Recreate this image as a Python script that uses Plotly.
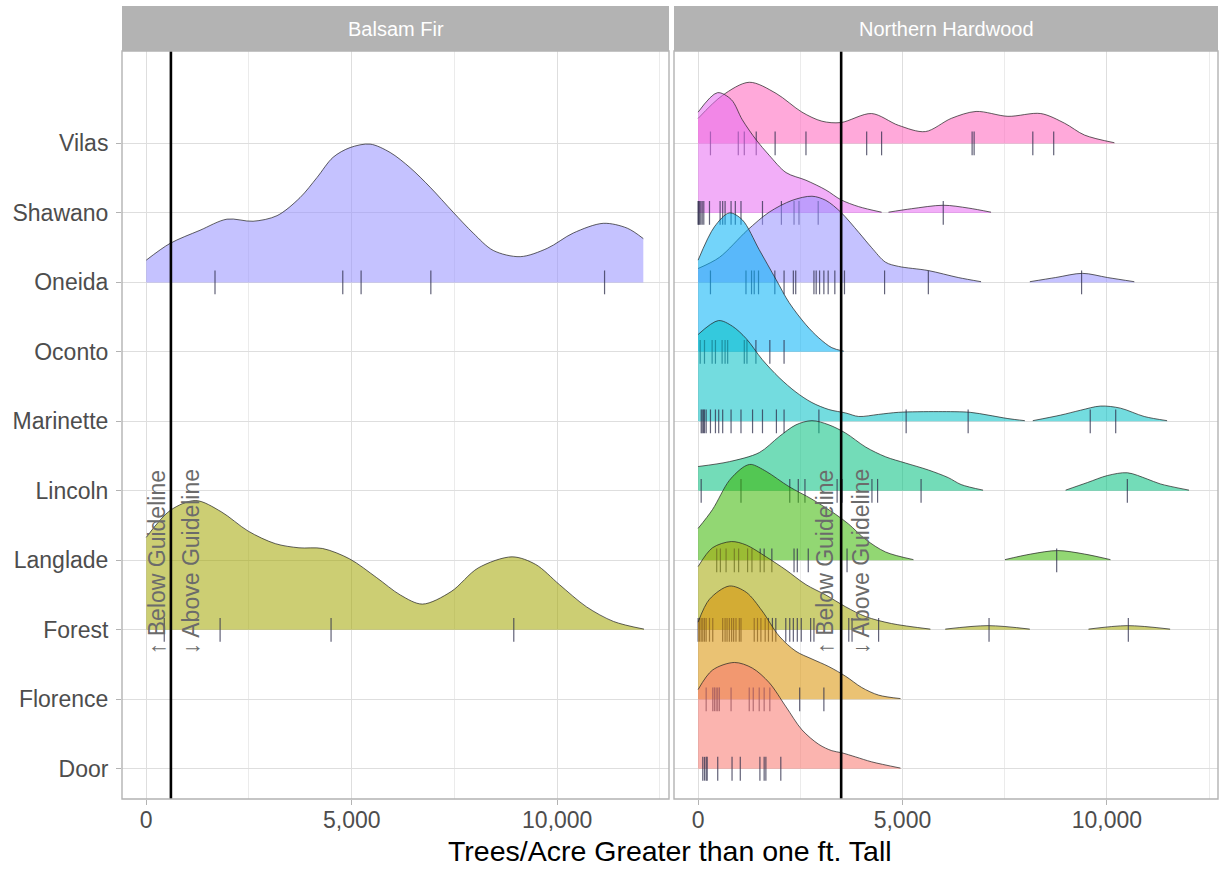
import plotly.graph_objects as go

# ---------------- data ----------------
CATEGORIES = ["Door", "Florence", "Forest", "Langlade", "Lincoln",
              "Marinette", "Oconto", "Oneida", "Shawano", "Vilas"]
COLORS = ["#F8766D", "#D89000", "#A3A500", "#39B600", "#00BF7D",
          "#00BFC4", "#00B0F6", "#9590FF", "#E76BF3", "#FF62BC"]
PANELS = ["Balsam Fir", "Northern Hardwood"]
GUIDELINES = [600, 3500]
X_TICKS = [0, 5000, 10000]
X_TICK_LABELS = ["0", "5,000", "10,000"]
X_MINOR = [2500, 7500, 12500]
X_TITLE = "Trees/Acre Greater than one ft. Tall"
BELOW_TEXT = "\u2191 Below Guideline"
ABOVE_TEXT = "\u2193 Above Guideline"

# density ridges (x grid, ridge height in row units); several segments where tails are cut
bf_oneida_x = [0, 577, 1308, 1965, 2598, 3182, 3742, 4156, 4546, 4960, 5447, 5934, 6421,
               6908, 7468, 7955, 8442, 9099, 9757, 10390, 11120, 11705, 12095]
bf_oneida_h = [0.32, 0.56, 0.75, 0.91, 0.88, 0.96, 1.22, 1.51, 1.80, 1.94, 1.99, 1.87, 1.65,
               1.37, 1.01, 0.71, 0.46, 0.37, 0.49, 0.71, 0.85, 0.78, 0.63]
bf_forest_x = [0, 587, 1205, 1821, 2481, 3139, 3716, 4293, 4950, 5608, 6185, 6720, 7419,
               8077, 8902, 9477, 10054, 10714, 11371, 12111]
bf_forest_h = [1.33, 1.72, 1.86, 1.70, 1.42, 1.24, 1.18, 1.17, 1.02, 0.75, 0.50, 0.37, 0.55,
               0.89, 1.05, 0.94, 0.65, 0.33, 0.12, 0.01]

nh_vilas_x = [0, 594, 1251, 1908, 2541, 3028, 3491, 4245, 4903, 5560, 6193, 6801, 7580,
              8384, 8968, 9455, 10185]
nh_vilas_h = [0.36, 0.69, 0.88, 0.72, 0.45, 0.32, 0.30, 0.43, 0.26, 0.17, 0.36, 0.46, 0.39,
              0.43, 0.29, 0.12, 0.01]
nh_shawano_x1 = [0, 472, 813, 1081, 1422, 1738, 2152, 2639, 3126, 3491, 3929, 4489]
nh_shawano_h1 = [1.45, 1.73, 1.63, 1.34, 1.05, 0.83, 0.58, 0.47, 0.33, 0.19, 0.09, 0.01]
nh_shawano_x2 = [4659, 5219, 5998, 6607, 7167]
nh_shawano_h2 = [0.01, 0.06, 0.11, 0.07, 0.01]
nh_oneida_x1 = [0, 521, 1203, 1738, 2298, 2785, 3126, 3491, 3929, 4245, 4586, 4903, 5633,
                6363, 6923]
nh_oneida_h1 = [0.20, 0.36, 0.75, 1.01, 1.18, 1.24, 1.18, 1.01, 0.72, 0.50, 0.29, 0.23, 0.17,
                0.07, 0.01]
nh_oneida_x2 = [8116, 8749, 9406, 10015, 10672]
nh_oneida_h2 = [0.01, 0.07, 0.13, 0.07, 0.01]
nh_oconto_x = [0, 399, 764, 1081, 1495, 1908, 2225, 2639, 2955, 3272, 3564]
nh_oconto_h = [1.32, 1.80, 2.00, 1.90, 1.47, 1.04, 0.71, 0.39, 0.20, 0.06, 0.01]
nh_marinette_x1 = [0, 497, 837, 1178, 1568, 1982, 2395, 2785, 3199, 3613, 3929, 4416, 4903,
                   5876, 6655, 7094, 7580, 7994]
nh_marinette_h1 = [1.25, 1.45, 1.37, 1.19, 0.89, 0.63, 0.42, 0.27, 0.17, 0.12, 0.07, 0.10, 0.13,
                   0.14, 0.13, 0.09, 0.04, 0.01]
nh_marinette_x2 = [8189, 8871, 9357, 9844, 10331, 10915, 11475]
nh_marinette_h2 = [0.01, 0.09, 0.16, 0.22, 0.19, 0.07, 0.01]
nh_lincoln_x1 = [0, 764, 1495, 1982, 2395, 2785, 3199, 3613, 4099, 4586, 5073, 5633, 6120,
                 6436, 6972]
nh_lincoln_h1 = [0.35, 0.42, 0.55, 0.78, 0.95, 1.01, 0.95, 0.83, 0.63, 0.49, 0.40, 0.30, 0.19,
                 0.09, 0.01]
nh_lincoln_x2 = [8992, 9528, 10015, 10502, 10988, 11305, 12011]
nh_lincoln_h2 = [0.01, 0.12, 0.22, 0.26, 0.17, 0.10, 0.01]
nh_langlade_x1 = [0, 351, 764, 1130, 1300, 1665, 2225, 2785, 3369, 3686, 4099, 4586, 5268]
nh_langlade_h1 = [0.46, 0.73, 1.15, 1.35, 1.38, 1.28, 1.06, 0.88, 0.66, 0.52, 0.30, 0.12, 0.01]
nh_langlade_x2 = [7507, 8140, 8798, 9455, 10088]
nh_langlade_h2 = [0.01, 0.09, 0.14, 0.09, 0.01]
nh_forest_x1 = [0, 351, 813, 1178, 1665, 2152, 2639, 3126, 3613, 4099, 4732, 5682]
nh_forest_h1 = [0.91, 1.18, 1.27, 1.22, 1.05, 0.86, 0.65, 0.50, 0.33, 0.19, 0.09, 0.01]
nh_forest_x2 = [6047, 7094, 8116]
nh_forest_h2 = [0.01, 0.06, 0.01]
nh_forest_x3 = [9552, 10502, 11548]
nh_forest_h3 = [0.01, 0.06, 0.01]
nh_florence_x = [0, 278, 764, 1178, 1568, 1982, 2395, 2785, 3199, 3613, 4002, 4416, 4951]
nh_florence_h = [1.11, 1.44, 1.63, 1.54, 1.27, 0.91, 0.69, 0.58, 0.47, 0.33, 0.17, 0.06, 0.01]
nh_door_x = [0, 351, 886, 1324, 1738, 2152, 2541, 2955, 3272, 3515, 3856, 4245, 4951]
nh_door_h = [1.14, 1.42, 1.53, 1.45, 1.24, 0.89, 0.56, 0.35, 0.26, 0.23, 0.17, 0.10, 0.01]

# observed plot values (rug marks)
bf_oneida_pts = [1673, 4782, 5228, 6925, 11152]
bf_forest_pts = [438, 1797, 4497, 8943]
nh_vilas_pts = [302, 983, 1130, 1422, 1884, 2639, 4124, 4489, 6704, 6753, 8189, 8700]
nh_shawano_pts = [0, 10, 34, 66, 100, 139, 278, 538, 601, 660, 806, 910, 1049, 1575, 2038,
                  2347, 2468, 2938, 5998]
nh_oneida_pts = [302, 1171, 1307, 1373, 1478, 1877, 2103, 2330, 2388, 2834, 2889, 2972, 3077,
                 3182, 3345, 3581, 4562, 5633, 9382]
nh_oconto_pts = [51, 156, 343, 424, 587, 660, 723, 1130, 1195, 1414, 1755, 2103]
nh_marinette_pts = [75, 100, 131, 156, 197, 302, 424, 504, 601, 806, 1049, 1332, 1575, 1916,
                    2103, 2955, 5090, 6607, 9594, 10217]
nh_lincoln_pts = [75, 1049, 2242, 2451, 2614, 3401, 3522, 4253, 4391, 5455, 10502]
nh_langlade_pts = [455, 545, 684, 886, 991, 1210, 1317, 1519, 1616, 1804, 2347, 2427, 2695,
                   3644, 8773]
nh_forest_pts = [0, 34, 75, 114, 156, 197, 278, 358, 601, 660, 708, 764, 820, 869, 927, 1008,
                 1049, 1373, 1453, 1536, 1641, 1721, 1818, 1901, 2145, 2242, 2330, 2427, 2524,
                 2753, 2834, 3686, 3766, 4416, 7118, 10526]
nh_florence_pts = [197, 358, 399, 441, 480, 521, 806, 1251, 1349, 1495, 1616, 1755, 2485, 3077]
nh_door_pts = [114, 156, 197, 222, 480, 830, 1032, 1512, 1616, 1658, 2023]

RIDGES = [
    ("Balsam Fir", "Oneida", [(bf_oneida_x, bf_oneida_h)], bf_oneida_pts),
    ("Balsam Fir", "Forest", [(bf_forest_x, bf_forest_h)], bf_forest_pts),
    ("Northern Hardwood", "Vilas", [(nh_vilas_x, nh_vilas_h)], nh_vilas_pts),
    ("Northern Hardwood", "Shawano", [(nh_shawano_x1, nh_shawano_h1),
                                      (nh_shawano_x2, nh_shawano_h2)], nh_shawano_pts),
    ("Northern Hardwood", "Oneida", [(nh_oneida_x1, nh_oneida_h1),
                                     (nh_oneida_x2, nh_oneida_h2)], nh_oneida_pts),
    ("Northern Hardwood", "Oconto", [(nh_oconto_x, nh_oconto_h)], nh_oconto_pts),
    ("Northern Hardwood", "Marinette", [(nh_marinette_x1, nh_marinette_h1),
                                        (nh_marinette_x2, nh_marinette_h2)], nh_marinette_pts),
    ("Northern Hardwood", "Lincoln", [(nh_lincoln_x1, nh_lincoln_h1),
                                      (nh_lincoln_x2, nh_lincoln_h2)], nh_lincoln_pts),
    ("Northern Hardwood", "Langlade", [(nh_langlade_x1, nh_langlade_h1),
                                       (nh_langlade_x2, nh_langlade_h2)], nh_langlade_pts),
    ("Northern Hardwood", "Forest", [(nh_forest_x1, nh_forest_h1), (nh_forest_x2, nh_forest_h2),
                                     (nh_forest_x3, nh_forest_h3)], nh_forest_pts),
    ("Northern Hardwood", "Florence", [(nh_florence_x, nh_florence_h)], nh_florence_pts),
    ("Northern Hardwood", "Door", [(nh_door_x, nh_door_h)], nh_door_pts),
]

# ---------------- figure ----------------
FONT = "Liberation Sans, Arial, sans-serif"
AXES = {"Balsam Fir": ("x", "y"), "Northern Hardwood": ("x2", "y2")}


def rgba(hex_color, a):
    h = hex_color.lstrip("#")
    return "rgba(%d,%d,%d,%.2f)" % (int(h[0:2], 16), int(h[2:4], 16), int(h[4:6], 16), a)


fig = go.Figure()
for panel, county, segments, pts in RIDGES:
    xa, ya = AXES[panel]
    base = CATEGORIES.index(county) + 1
    col = COLORS[CATEGORIES.index(county)]
    fill = rgba(col, 0.55)
    for xs, hs in segments:
        fig.add_trace(go.Scatter(x=[xs[0], xs[-1]], y=[base, base], mode="lines",
                                 line=dict(width=0, color=fill), xaxis=xa, yaxis=ya,
                                 hoverinfo="skip", showlegend=False))
        fig.add_trace(go.Scatter(x=xs, y=[base + h for h in hs], mode="lines",
                                 line=dict(color="rgba(35,35,35,0.9)", width=0.8,
                                           shape="spline", smoothing=0.9),
                                 fill="tonexty", fillcolor=fill, xaxis=xa, yaxis=ya,
                                 name=county, showlegend=False))
    fig.add_trace(go.Scatter(x=pts, y=[base] * len(pts), mode="markers",
                             marker=dict(symbol="line-ns", size=17,
                                         line=dict(width=1.2, color="rgba(45,45,75,0.75)")),
                             xaxis=xa, yaxis=ya, hoverinfo="x", showlegend=False))

W, H = 1220, 869
PANEL_TOP, PANEL_BOT = 51, 799
STRIP_TOP = 6
y_dom = [(H - PANEL_BOT) / H, (H - PANEL_TOP) / H]
x_doms = [[122 / W, 669 / W], [674 / W, 1218 / W]]
X_RANGE = [-590, 12720]
Y_RANGE = [0.565, 11.33]

common_x = dict(range=X_RANGE, tickvals=X_TICKS, ticktext=X_TICK_LABELS,
                tickfont=dict(size=23, color="#4D4D4D", family=FONT),
                ticks="outside", ticklen=5, tickcolor="#B3B3B3", tickwidth=1,
                ticklabelstandoff=-5,
                showgrid=True, gridcolor="#DEDEDE", gridwidth=1, zeroline=False,
                showline=False, fixedrange=True,
                minor=dict(tickvals=X_MINOR, showgrid=True, gridcolor="#EBEBEB",
                           gridwidth=0.6, ticks=""))
fig.update_layout(
    width=W, height=H, margin=dict(l=0, r=0, t=0, b=0),
    paper_bgcolor="white", plot_bgcolor="white", showlegend=False,
    font=dict(family=FONT),
    xaxis=dict(domain=x_doms[0], anchor="y", **common_x),
    xaxis2=dict(domain=x_doms[1], anchor="y2", **common_x),
    yaxis=dict(domain=y_dom, anchor="x", range=Y_RANGE,
               tickvals=list(range(1, len(CATEGORIES) + 1)), ticktext=CATEGORIES,
               tickfont=dict(size=23, color="#4D4D4D", family=FONT),
               ticks="outside", ticklen=5, tickcolor="#B3B3B3", ticklabelstandoff=3,
               showgrid=True, gridcolor="#DEDEDE", gridwidth=1, zeroline=False,
               showline=False, fixedrange=True),
    yaxis2=dict(domain=y_dom, anchor="x2", matches="y", range=Y_RANGE,
                tickvals=list(range(1, len(CATEGORIES) + 1)), showticklabels=False,
                ticks="", showgrid=True, gridcolor="#DEDEDE", gridwidth=1,
                zeroline=False, showline=False, fixedrange=True),
)

shapes = []
annotations = []
for i, panel in enumerate(PANELS):
    xa, ya = AXES[panel]
    shapes.append(dict(type="line", xref=xa, yref=ya + " domain", x0=GUIDELINES[i],
                       x1=GUIDELINES[i], y0=0, y1=1, line=dict(color="black", width=2.6),
                       layer="above"))
    shapes.append(dict(type="rect", xref=xa + " domain", yref=ya + " domain", x0=0, x1=1,
                       y0=0, y1=1, line=dict(color="#B3B3B3", width=1.4), layer="above"))
    shapes.append(dict(type="rect", xref=xa + " domain", yref="paper", x0=0, x1=1,
                       y0=(H - PANEL_TOP) / H, y1=(H - STRIP_TOP) / H,
                       fillcolor="#B3B3B3", line=dict(width=0), layer="above"))
    annotations.append(dict(text=panel, xref=xa + " domain", yref="paper", x=0.5,
                            y=(2 * H - PANEL_TOP - STRIP_TOP) / (2 * H), showarrow=False,
                            font=dict(size=20, color="white", family=FONT),
                            xanchor="center", yanchor="middle"))

label_pos = [(260, 1080), (3118, 3970)]
for i, panel in enumerate(PANELS):
    xa, ya = AXES[panel]
    for txt, xv in zip([BELOW_TEXT, ABOVE_TEXT], label_pos[i]):
        annotations.append(dict(text=txt, xref=xa, yref=ya, x=xv, y=2.62, textangle=-90,
                                showarrow=False, xanchor="center", yanchor="bottom",
                                font=dict(size=23, color="#6B6B6B", family=FONT)))

annotations.append(dict(text=X_TITLE, xref="paper", yref="paper", x=670 / W,
                        y=(H - 851) / H, showarrow=False, xanchor="center",
                        yanchor="middle", borderpad=0,
                        font=dict(size=28.5, color="black", family=FONT)))

fig.update_layout(shapes=shapes, annotations=annotations)
fig.write_html("out.html",
               config={"displayModeBar": False},
               post_script="document.body.style.margin='0px';"
                           "document.body.style.overflow='hidden';")
